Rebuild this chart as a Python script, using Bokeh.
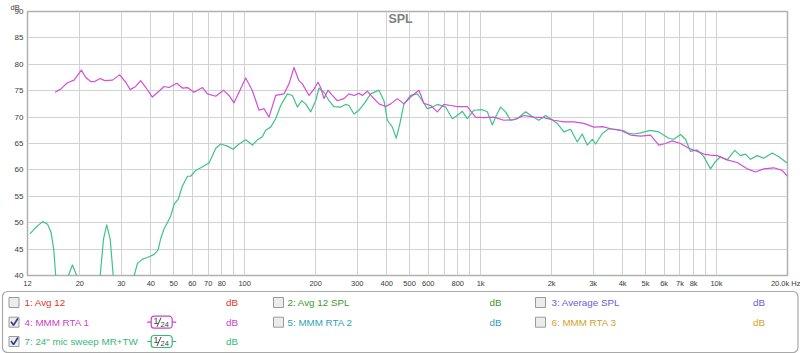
from bokeh.plotting import figure
from bokeh.models import Range1d, FixedTicker, Label, BoxAnnotation, ColumnDataSource
from bokeh.core.properties import value
from bokeh.embed import file_html
from bokeh.resources import INLINE

# ---------------- data ----------------
rta1_freq = [15.7, 16.6, 17.7, 18.9, 20.3, 21.2, 22.3, 23.0, 24.4, 25.5, 27.5, 29.5, 31.3, 32.7,
             34.5, 36.2, 38.1, 40.6, 43.3, 45.5, 47.8, 51.5, 54.4, 57.2, 61.0, 66.2, 69.5, 75.4,
             81.2, 85.8, 90.1, 95.5, 101, 107.8, 115, 120.7, 126.8, 135.3, 146.7, 154.1, 161.8,
             169.8, 175.6, 187.3, 196.6, 204.5, 209.9, 216.8, 225.4, 235.3, 247.1, 263.5, 276.7,
             290.5, 305.1, 315.3, 331.1, 347.6, 370.9, 395.9, 415.7, 443.6, 473.2, 505.1, 547.9,
             575, 614, 655.5, 699, 746, 796.5, 878, 952, 1033, 1139, 1255, 1384, 1526, 1682, 1854,
             2045, 2254, 2485, 2740, 3021, 3300, 3614, 3920, 4321, 4764, 5252, 5695, 6079, 6492,
             7039, 7631, 8282, 8837, 9432, 10070, 11100, 12240, 13490, 14630, 15860, 17490, 18980,
             20000]
rta1_db = [74.7, 75.3, 76.5, 77.0, 78.9, 77.5, 76.7, 76.7, 77.3, 76.9, 77.0, 78.0, 76.6, 75.2,
           75.8, 76.9, 75.6, 73.8, 74.9, 75.8, 75.6, 76.4, 75.5, 75.6, 74.7, 75.6, 74.4, 73.95,
           75.1, 74.1, 72.7, 75.1, 77.4, 75.0, 71.3, 71.6, 70.0, 74.1, 74.4, 76.3, 79.4,
           76.9, 76.3, 74.1, 75.3, 76.6, 75.6, 73.5, 75.1, 74.1, 73.1, 73.5, 74.4,
           74.1, 74.5, 74.1, 74.9, 73.8, 72.5, 72.0, 72.5, 73.5, 72.5, 73.8, 75.1,
           72.6, 72.2, 71.0, 72.4, 72.2, 72.0, 72.0, 70.0, 69.9, 70.0, 69.4, 69.5, 70.3, 70.0, 69.9,
           69.4, 69.1, 69.1, 68.8, 68.1, 68.2, 67.7, 67.5, 66.6, 66.4, 66.6, 64.7, 65.0, 65.5,
           65.0, 64.1, 63.5, 63.0, 62.8, 62.7, 61.9, 61.4, 60.2, 59.6, 60.2, 60.4, 59.9,
           58.8]

sweep_freq = [12.3, 13.0, 13.9, 14.6, 15.1, 15.5, 15.8, 16.8, 17.9, 18.6, 19.4, 21.8, 24.4, 25.2,
              26.0, 26.9, 27.7, 30.0, 32.7, 34.0, 35.1, 36.9, 38.7, 41.3, 42.9, 44.0, 45.5, 47.0,
              48.6, 50.2, 52.2, 54.4, 57.2, 59.0, 62.0, 65.1, 70.6, 75.4, 79.1, 84.5, 89.2, 94.6,
              101, 107.8, 113.2, 118.9, 122.7, 128.9, 135.3, 142.1, 151.7, 159.3, 167.2, 174.4,
              181.3, 190.5, 199.9, 206.4, 216.8, 227.6, 239, 255.2, 267.9, 276.7, 290.5, 305.1,
              320.3, 342, 370.9, 389.3, 402.4, 422.5, 439.3, 455.1, 473.2, 505.1, 539.4, 566.2,
              594.5, 624.3, 655.5, 710.7, 758.8, 796.5, 836.6, 878, 936.7, 1017, 1068, 1121, 1158,
              1215, 1276, 1340, 1431, 1551, 1656, 1766, 1885, 1980, 2113, 2254, 2406, 2569, 2697,
              2832, 2974, 3072, 3280, 3497, 3733, 4048, 4250, 4462, 4764, 5252, 5695, 6279, 6593,
              7039, 7390, 7759, 8282, 8837, 9432, 9903, 10400, 11100, 11950, 12640, 13270, 13940,
              14880, 15860, 17220, 18370, 19940]
sweep_db = [47.9, 49.1, 50.2, 49.7, 48.2, 45.0, 40.0, 30.0, 40.0, 42.0, 40.0, 30.0, 40.0, 46.9,
            49.6, 46.9, 40.0, 30.0, 39.8, 40.0, 42.3, 43.1, 43.4, 44.0, 44.8, 46.9, 48.8, 50.0,
            51.3, 53.5, 54.4, 56.9, 58.8, 58.8, 59.9, 60.4, 61.3, 64.1, 64.9, 64.5, 63.9, 64.9,
            65.7, 64.7, 65.7, 66.3, 67.5, 68.1, 69.7, 72.2, 74.4, 74.1, 71.9, 73.1,
            72.5, 71.0, 73.1, 75.5, 74.7, 73.1, 72.0, 71.9, 72.4, 72.2, 70.6, 71.3,
            72.5, 74.4, 75.1, 73.1, 69.4, 68.1, 66.0, 68.8, 72.5, 74.1, 74.4, 73.1,
            71.6, 71.9, 72.4, 71.9, 69.7, 70.3, 71.1, 69.7, 71.3, 71.4, 71.0, 68.5, 70.0,
            71.9, 71.0, 69.4, 69.7, 71.0, 70.1, 69.4, 70.3, 69.7, 68.8, 67.2, 67.7, 65.3, 66.8,
            64.7, 65.8, 64.9, 66.9, 67.8, 67.7, 67.4, 66.9, 66.8, 67.0, 67.5, 67.2, 66.0, 65.8,
            66.7, 65.8, 63.5, 63.8, 62.5, 60.2, 61.6, 62.5, 61.9, 63.7, 62.7, 63.0, 62.0,
            62.7, 62.2, 63.2, 62.5, 61.3]

x_tick_values = [12, 20, 30, 40, 50, 60, 70, 80, 100, 200, 300, 400, 500, 600, 800,
                 1000, 2000, 3000, 4000, 5000, 6000, 7000, 8000, 10000, 20000]
x_tick_labels = ["12", "20", "30", "40", "50", "60", "70", "80", "100", "200", "300", "400",
                 "500", "600", "800", "1k", "2k", "3k", "4k", "5k", "6k", "7k", "8k", "10k",
                 "20.0k Hz"]
x_grid_values = [20, 30, 40, 50, 60, 70, 80, 90, 100, 200, 300, 400, 500, 600, 700, 800, 900,
                 1000, 2000, 3000, 4000, 5000, 6000, 7000, 8000, 9000, 10000]
y_ticks = [40, 45, 50, 55, 60, 65, 70, 75, 80, 85, 90]

legend_names = ["1: Avg 12", "2: Avg 12 SPL", "3: Average SPL", "4: MMM RTA 1",
                "5: MMM RTA 2", "6: MMM RTA 3", "7: 24\" mic sweep MR+TW"]
legend_colors = ["#e0352c", "#3d9a2a", "#6b5bd9", "#c843c8", "#2ea3b3", "#d3a21f", "#36b877"]
legend_checked = [False, False, False, True, False, False, True]
legend_smoothing = ["", "", "", "1/24", "", "", "1/24"]

MAGENTA = "#d24fd6"
GREEN = "#3fc387"
FONT = "Liberation Sans"

# ---------------- main chart ----------------
p = figure(width=800, height=290, x_axis_type="log",
           x_range=Range1d(12, 20000), y_range=Range1d(40, 90),
           output_backend="svg", toolbar_location=None,
           min_border_left=27, min_border_right=13, min_border_top=10, min_border_bottom=13,
           background_fill_color="white", border_fill_color="white")

p.title.text = "dB"
p.title.align = "left"
p.title.offset = -17
p.title.standoff = 0
p.title.text_font = FONT
p.title.text_font_size = "7.5px"
p.title.text_font_style = "normal"
p.title.text_color = "#3a3a3a"

p.xaxis.ticker = FixedTicker(ticks=x_tick_values)
p.xaxis.major_label_overrides = {v: l for v, l in zip(x_tick_values, x_tick_labels)}
p.xgrid.ticker = FixedTicker(ticks=x_grid_values)
p.yaxis.ticker = FixedTicker(ticks=y_ticks)

for ax in (p.xaxis[0], p.yaxis[0]):
    ax.axis_line_color = None
    ax.major_tick_line_color = None
    ax.minor_tick_line_color = None
    ax.major_tick_out = 0
    ax.major_tick_in = 0
    ax.major_label_text_font = FONT
    ax.major_label_text_color = "#3a3a3a"
p.xaxis.major_label_text_font_size = "7.5px"
p.xaxis.major_label_standoff = 3
p.yaxis.major_label_text_font_size = "8px"
p.yaxis.major_label_standoff = 4

for g in (p.xgrid[0], p.ygrid[0]):
    g.grid_line_color = "#d2d2d2"
    g.grid_line_width = 1

p.outline_line_color = "#b0b0b0"
p.outline_line_width = 1.5

p.line(sweep_freq, sweep_db, line_color=GREEN, line_width=1.2, line_join="round")
p.line(rta1_freq, rta1_db, line_color=MAGENTA, line_width=1.2, line_join="round")

p.add_layout(Label(x=458, y=88.6, text="SPL", text_align="center", text_baseline="middle",
                   text_font=FONT, text_font_style="bold", text_font_size="12.5px",
                   text_color="#808080"))

# ---------------- legend panel ----------------
leg = figure(width=800, height=63, x_range=Range1d(0, 800), y_range=Range1d(63, 0),
             output_backend="svg", toolbar_location=None, min_border=0,
             x_axis_location=None, y_axis_location=None,
             background_fill_color="white", border_fill_color="white")
leg.grid.visible = False
leg.outline_line_color = None

leg.add_layout(BoxAnnotation(left=2, right=797.5, top=1, bottom=62, fill_color=None,
                             line_color="#a8a8a8", line_alpha=1.0, line_width=1.2,
                             border_radius=5, level="underlay"))

col_box_x = [8.5, 273, 535]
col_text_x = [24, 287, 551]
col_db_x = [225.5, 489, 752.5]
row_y = [12, 31.7, 51]

idx = list(range(len(legend_names)))
cx = [col_box_x[i % 3] for i in idx]
cy = [row_y[i // 3] for i in idx]

src = ColumnDataSource(dict(
    left=cx, right=[c + 10 for c in cx],
    top=[y - 5 for y in cy], bottom=[y + 5 for y in cy],
    tx=[col_text_x[i % 3] for i in idx], dx=[col_db_x[i % 3] for i in idx], ty=cy,
    name=legend_names, color=legend_colors, db=["dB"] * len(idx)))

leg.quad(left="left", right="right", top="top", bottom="bottom", source=src,
         fill_color="#ececec", line_color="#9a9a9a", line_width=1)
leg.text(x="tx", y="ty", text="name", text_color="color", source=src,
         text_font=value(FONT), text_font_size="9.8px", text_baseline="middle")
leg.text(x="dx", y="ty", text="db", text_color="color", source=src,
         text_font=value(FONT), text_font_size="9.8px", text_baseline="middle")

# check marks
for i in idx:
    if legend_checked[i]:
        x0, y0 = cx[i], cy[i]
        leg.line([x0 + 2, x0 + 4.5, x0 + 9], [y0 - 0.5, y0 + 3, y0 - 4],
                 line_color="#2f3f86", line_width=1.6)

# smoothing badges
for i in idx:
    if legend_smoothing[i]:
        y0 = cy[i]
        c = legend_colors[i]
        leg.line([146.7, 150.7], [y0, y0], line_color=c, line_width=1.2)
        leg.line([171.7, 175.7], [y0, y0], line_color=c, line_width=1.2)
        leg.add_layout(BoxAnnotation(left=150.7, right=171.7, top=y0 - 6, bottom=y0 + 6,
                                     fill_color="white", fill_alpha=1.0, line_color=c,
                                     line_alpha=1.0, line_width=1.2, border_radius=3,
                                     level="underlay"))
        num, den = legend_smoothing[i].split("/")
        leg.text(x=[153], y=[y0 - 1.5], text=[num], text_color="#444444",
                 text_font=value(FONT), text_font_size="9px", text_baseline="middle")
        leg.line([156.5, 160.5], [y0 + 4.5, y0 - 4.5], line_color="#444444", line_width=1)
        leg.text(x=[160], y=[y0 + 2], text=[den], text_color="#444444",
                 text_font=value(FONT), text_font_size="7.5px", text_baseline="middle")

open("out.html", "w").write(file_html([p, leg], INLINE))
